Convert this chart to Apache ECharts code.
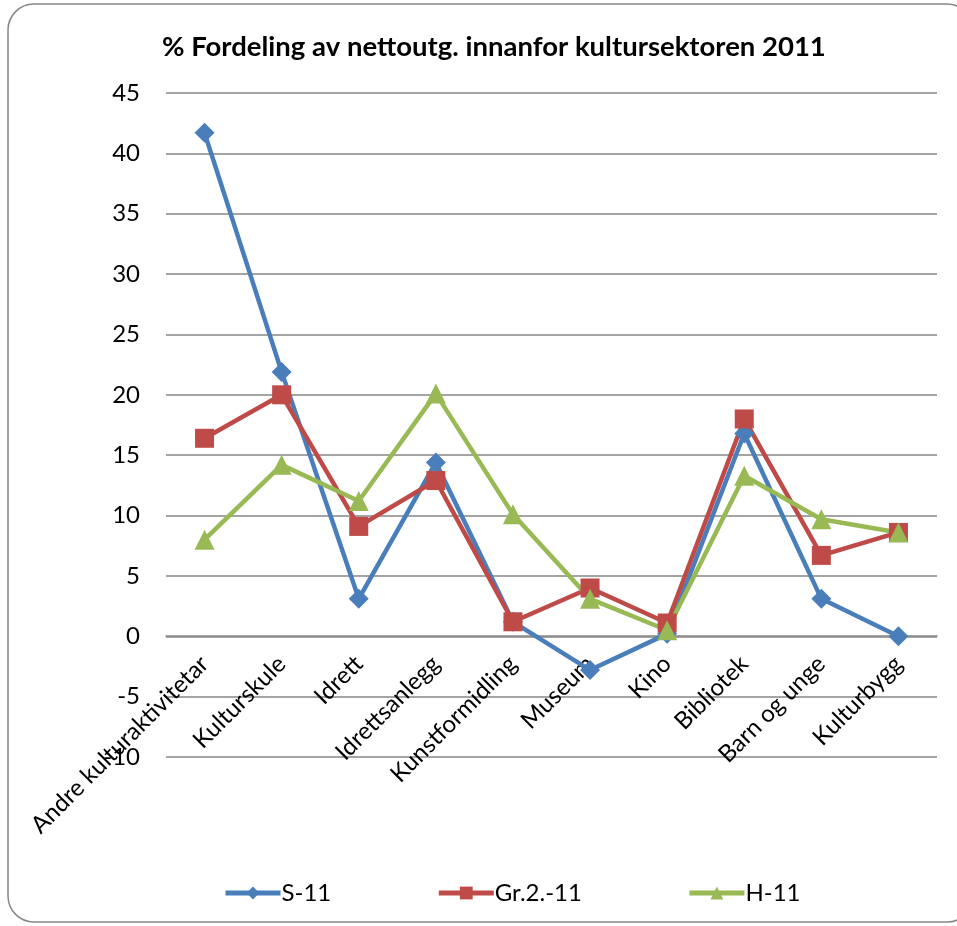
<!DOCTYPE html>
<html>
<head>
<meta charset="utf-8">
<script src="https://cdn.jsdelivr.net/npm/echarts@6/dist/echarts.min.js"></script>
<style>
  html, body { margin: 0; padding: 0; background: #fff; }
  #chart { width: 957px; height: 926px; }
</style>
</head>
<body>
<div id="chart"></div>
<script>
// categories and series values
const categories = ['Andre kulturaktivitetar', 'Kulturskule', 'Idrett', 'Idrettsanlegg',
  'Kunstformidling', 'Museum', 'Kino', 'Bibliotek', 'Barn og unge', 'Kulturbygg'];
const s11 = [41.7, 21.9, 3.1, 14.4, 1.2, -2.8, 0.2, 16.8, 3.1, 0];
const gr211 = [16.4, 20.0, 9.1, 12.9, 1.2, 4.0, 1.1, 18.0, 6.7, 8.6];
const h11 = [8.0, 14.2, 11.2, 20.1, 10.1, 3.1, 0.5, 13.3, 9.7, 8.6];
const seriesNames = ['S-11', 'Gr.2.-11', 'H-11'];

const font = 'Lato, "Noto Sans", sans-serif';
const chart = echarts.init(document.getElementById('chart'));

const mkSeries = (name, data, color, symbol, size) => ({
  name,
  type: 'line',
  data,
  symbol,
  symbolSize: size,
  showAllSymbol: true,
  lineStyle: { width: 4.5, color },
  itemStyle: { color },
  emphasis: { disabled: true },
});

// grid runs from y=93 (45) to y=757 (-10); zero line sits at y=636
const gridTop = 93, gridBottom = 757, zeroY = 636;

chart.setOption({
  animation: false,
  textStyle: { fontFamily: font },
  graphic: [{
    type: 'rect',
    shape: { x: 8, y: 4, width: 965, height: 918, r: 26 },
    style: { fill: 'none', stroke: '#868686', lineWidth: 1.5 },
    silent: true,
  }],
  title: {
    text: '% Fordeling av nettoutg. innanfor kultursektoren 2011',
    left: 157,
    top: 28,
    textStyle: { fontFamily: font, fontSize: 27.5, fontWeight: 'bold', color: '#000' },
  },
  legend: {
    left: 218,
    top: 876,
    itemWidth: 55,
    itemHeight: 16,
    itemGap: 105,
    data: seriesNames,
    lineStyle: { width: 5 },
    textStyle: { fontFamily: font, fontSize: 24, color: '#000', padding: [0, 0, 0, -4] },
  },
  grid: { left: 166, right: 20, top: gridTop, bottom: 926 - gridBottom, containLabel: false },
  xAxis: {
    type: 'category',
    data: categories,
    boundaryGap: true,
    offset: -(gridBottom - zeroY),
    axisLine: { onZero: false, lineStyle: { color: '#868686', width: 1.5 } },
    axisTick: { show: false },
    axisLabel: { interval: 0, rotate: 45, margin: 24, fontSize: 24, color: '#000', fontFamily: font },
  },
  yAxis: {
    type: 'value',
    min: -10,
    max: 45,
    interval: 5,
    axisLine: { show: false },
    axisTick: { show: false },
    axisLabel: { fontSize: 24, color: '#000', margin: 26, fontFamily: font },
    splitLine: { lineStyle: { color: '#868686', width: 1.5 } },
  },
  series: [
    mkSeries('S-11', s11, '#4A7EBB', 'diamond', 20),
    mkSeries('Gr.2.-11', gr211, '#BE4B48', 'rect', 19),
    mkSeries('H-11', h11, '#98B954', 'triangle', 20),
  ],
});
</script>
</body>
</html>
